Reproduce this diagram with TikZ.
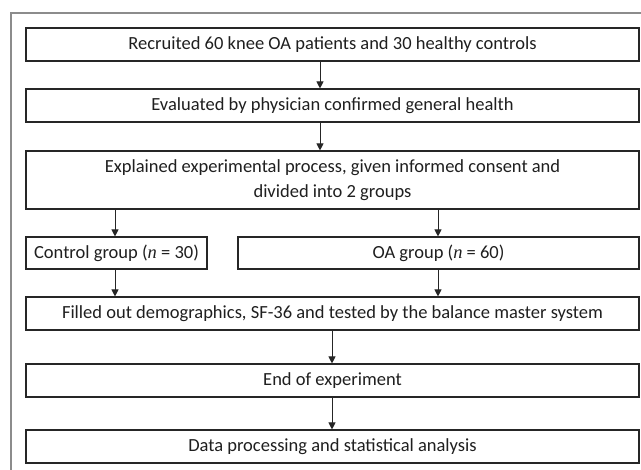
\documentclass[tikz,border=0pt]{standalone}
\usepackage{fontspec}
\setmainfont{Carlito}
\newfontfamily\serifit{Liberation Serif}
\usetikzlibrary{arrows.meta,calc}
\tikzset{
  flowbox/.style={draw=black!85, line width=1.1pt, rectangle, inner sep=0pt, align=center, font=\fontsize{18.5}{25}\selectfont, text=black!88},
  arr/.style={draw=black!85, line width=1pt, -{Triangle[length=7pt,width=7pt]}},
  frame/.style={draw=black!45, line width=1.2pt}
}
\newcommand{\nvar}{{\serifit\itshape n}}
\begin{document}
\begin{tikzpicture}[x=1pt,y=-1pt]
\useasboundingbox (0,0) rectangle (641,470);
\fill[white] (0,0) rectangle (641,470);
\draw[frame] (11,480) -- (11,13) -- (650,13);

\node[flowbox, minimum width=613pt, minimum height=33pt] (b1) at (332.5,44.5) {Recruited 60 knee OA patients and 30 healthy controls};
\node[flowbox, minimum width=613pt, minimum height=33pt] (b2) at (332.5,105.5) {Evaluated by physician confirmed general health};
\node[flowbox, minimum width=613pt, minimum height=58pt] (b3) at (332.5,180) {Explained experimental process, given informed consent and\\divided into 2 groups};
\node[flowbox, minimum width=181pt, minimum height=32pt] (ctl) at (116.5,253) {Control group (\nvar{} = 30)};
\node[flowbox, minimum width=401pt, minimum height=32pt] (oa) at (438.5,253) {OA group (\nvar{} = 60)};
\node[flowbox, minimum width=613pt, minimum height=33pt] (b5) at (332.5,313.5) {Filled out demographics, SF-36 and tested by the balance master system};
\node[flowbox, minimum width=613pt, minimum height=33pt] (b6) at (332.5,380.5) {End of experiment};
\node[flowbox, minimum width=613pt, minimum height=33pt] (b7) at (332.5,446.5) {Data processing and statistical analysis};

\coordinate (xm) at (320,0);
\coordinate (xl) at (115,0);
\coordinate (xr) at (438,0);
\coordinate (xb) at (332,0);

\draw[arr] (b1.south -| xm) -- (b2.north -| xm);
\draw[arr] (b2.south -| xm) -- (b3.north -| xm);
\draw[arr] (b3.south -| xl) -- (ctl.north -| xl);
\draw[arr] (b3.south -| xr) -- (oa.north -| xr);
\draw[arr] (ctl.south -| xl) -- (b5.north -| xl);
\draw[arr] (oa.south -| xr) -- (b5.north -| xr);
\draw[arr] (b5.south -| xb) -- (b6.north -| xb);
\draw[arr] (b6.south -| xb) -- (b7.north -| xb);
\end{tikzpicture}
\end{document}
